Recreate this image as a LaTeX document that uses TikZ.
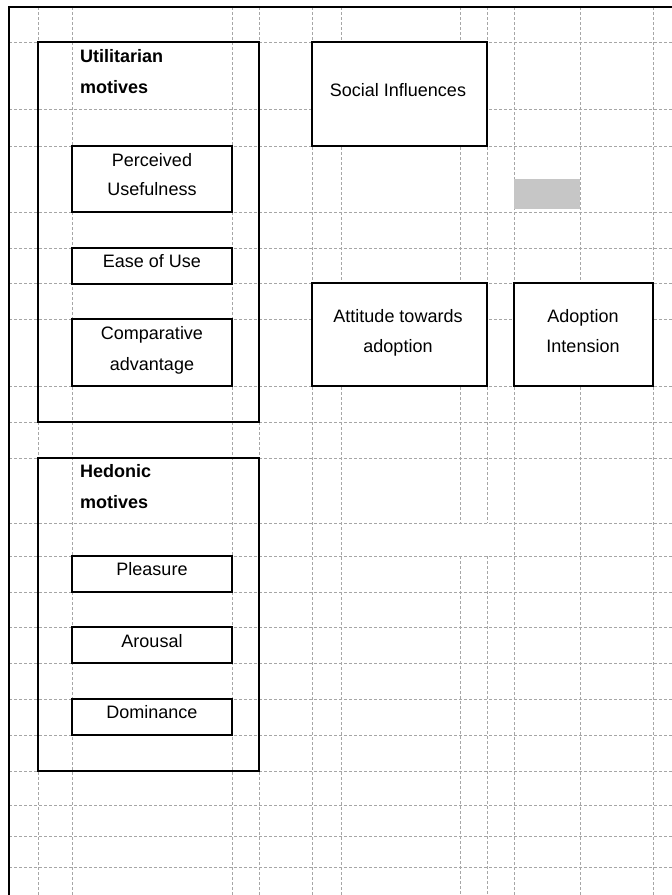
\documentclass[tikz,border=0pt]{standalone}
\usepackage{fontspec}
\setmainfont{Liberation Sans}
\begin{document}
\begin{tikzpicture}[x=1bp,y=-1bp,
  gridline/.style={draw=gray!70,line width=0.8bp,dash pattern=on 3bp off 2bp},
  frameline/.style={draw=black,line width=2bp},
  bigbox/.style={draw=black,line width=2bp,inner sep=0,rectangle},
  smallbox/.style={draw=black,line width=2bp,fill=white,inner sep=0,rectangle},
  shade/.style={fill=gray!45,draw=none,inner sep=0,rectangle},
  lbl/.style={font=\fontsize{18bp}{30bp}\selectfont,inner sep=0,anchor=base},
  ttl/.style={font=\fontsize{18bp}{30bp}\selectfont\bfseries,inner sep=0,anchor=base west}]
\useasboundingbox (0,0) rectangle (672,895);
% grid
\foreach \gx in {38,72,232,259,312,341,514,580,653}
  \draw[gridline] (\gx,7) -- (\gx,895);
\foreach \gx in {460,487}{
  \draw[gridline] (\gx,7) -- (\gx,523);
  \draw[gridline] (\gx,556) -- (\gx,895);}
\foreach \gy in {42,109,146,212,248,283,319,386,422,458,523,556,592,627,663,699,735,771,805,836,867}
  \draw[gridline] (9,\gy) -- (672,\gy);
% frame
\draw[frameline] (9,895) -- (9,7) -- (672,7);
% boxes
\node[bigbox,minimum width=221bp,minimum height=380bp] (ut) at (148.5,232) {};
\node[bigbox,minimum width=221bp,minimum height=313bp] (he) at (148.5,614.5) {};
\node[smallbox,minimum width=160bp,minimum height=66bp] (pu) at (152,179) {};
\node[smallbox,minimum width=160bp,minimum height=36bp] (eu) at (152,266) {};
\node[smallbox,minimum width=160bp,minimum height=67bp] (ca) at (152,352.5) {};
\node[smallbox,minimum width=160bp,minimum height=36bp] (pl) at (152,574) {};
\node[smallbox,minimum width=160bp,minimum height=36bp] (ar) at (152,645) {};
\node[smallbox,minimum width=160bp,minimum height=36bp] (do) at (152,717) {};
\node[smallbox,minimum width=175bp,minimum height=104bp] (si) at (399.5,94) {};
\node[smallbox,minimum width=175bp,minimum height=103bp] (at) at (399.5,334.5) {};
\node[smallbox,minimum width=139bp,minimum height=103bp] (ai) at (583.5,334.5) {};
\node[shade,minimum width=66bp,minimum height=30bp] (gr) at (547,194) {};
% texts
\node[ttl] (ut1) at (80,62) {Utilitarian};
\node[ttl] (ut2) at (80,93) {motives};
\node[ttl] (he1) at (80,477) {Hedonic};
\node[ttl] (he2) at (80,508) {motives};
\node[lbl] (pu1) at (152,166) {Perceived};
\node[lbl] (pu2) at (152,195) {Usefulness};
\node[lbl] (eu1) at (152,267) {Ease of Use};
\node[lbl] (ca1) at (152,339) {Comparative};
\node[lbl] (ca2) at (152,370) {advantage};
\node[lbl] (pl1) at (152,575) {Pleasure};
\node[lbl] (ar1) at (152,647) {Arousal};
\node[lbl] (do1) at (152,718) {Dominance};
\node[lbl] (si1) at (398,96) {Social Influences};
\node[lbl] (at1) at (398,322) {Attitude towards};
\node[lbl] (at2) at (398,352) {adoption};
\node[lbl] (ai1) at (583,322) {Adoption};
\node[lbl] (ai2) at (583,352) {Intension};
\end{tikzpicture}
\end{document}
